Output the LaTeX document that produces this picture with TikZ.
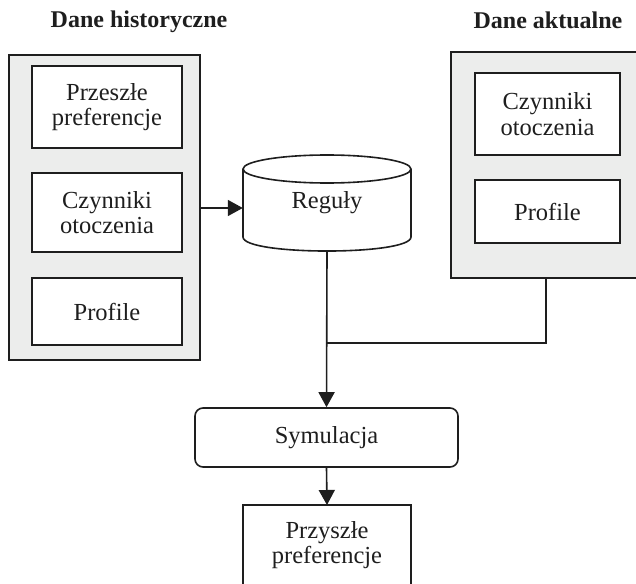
\documentclass[tikz,border=0pt]{standalone}
\usepackage{fontspec}
\setmainfont{Liberation Serif}
\usetikzlibrary{arrows.meta}
\definecolor{panelgray}{RGB}{236,237,236}
\definecolor{inkc}{RGB}{30,30,30}
\tikzset{
  panel/.style={draw=inkc, line width=1.6pt, fill=panelgray},
  itembox/.style={draw=inkc, line width=1.6pt, fill=white, align=center, inner sep=0pt},
  plain/.style={align=center, inner sep=0pt},
  conn/.style={draw=inkc, line width=1.6pt},
  arr/.style={conn, -{Triangle[length=15pt,width=16pt]}},
  ttl/.style={font=\fontsize{24}{26}\selectfont\bfseries, text=inkc},
}
\begin{document}
\begin{tikzpicture}[x=1pt, y=-1pt, font=\fontsize{24.5}{25.5}\selectfont, text=inkc]
\useasboundingbox (0,0) rectangle (636,583);
% titles
\node[ttl] (t1) at (139,22) {Dane historyczne};
\node[ttl] (t2) at (548,20) {Dane aktualne};
% left panel
\node[panel, minimum width=191pt, minimum height=305pt] (lp) at (104.5,207.5) {};
\node[itembox, minimum width=150pt, minimum height=82pt] (l1) at (107,107) {Przeszłe\\preferencje};
\node[itembox, minimum width=150pt, minimum height=79pt] (l2) at (107,212.5) {Czynniki\\otoczenia};
\node[itembox, minimum width=150pt, minimum height=67pt] (l3) at (107,311.5) {Profile};
% right panel (runs off the right edge)
\fill[panelgray] (451,52) rectangle (640,278);
\draw[conn] (640,52) -- (451,52) -- (451,278) -- (640,278);
\coordinate (rpb) at (546,278);
\node[itembox, minimum width=145pt, minimum height=82pt] (r1) at (547.5,114) {Czynniki\\otoczenia};
\node[itembox, minimum width=145pt, minimum height=63pt] (r2) at (547.5,211.5) {Profile};
% cylinder
\draw[conn, fill=white] (243,169) -- (243,237) .. controls (243,255.7) and (411,255.7) .. (411,237) -- (411,169);
\draw[conn, fill=white] (327,169) ellipse [x radius=84, y radius=14];
\node[plain, minimum width=168pt, minimum height=96pt] (reg) at (327,203) {Reguły};
\coordinate (regb) at (327,251);
% simulation
\node[draw=inkc, line width=1.6pt, rounded corners=8pt, minimum width=263pt, minimum height=59pt, inner sep=0pt] (sym) at (326.5,437.5) {Symulacja};
% output (cut at bottom)
\node[plain, minimum width=168pt, minimum height=110pt, anchor=north] (out) at (327,505) {};
\draw[conn] (out.south west) -- (out.north west) -- (out.north east) -- (out.south east);
\node[plain] at (327,545) {Przyszłe\\preferencje};
% connectors
\coordinate (jn) at (327,343);
\draw[arr] (lp.east |- 0,208) -- (reg.west |- 0,208);
\draw[arr] (regb) -- (sym.north);
\draw[conn] (rpb) |- (jn);
\draw[arr] (sym.south) -- (out.north);
\end{tikzpicture}
\end{document}
